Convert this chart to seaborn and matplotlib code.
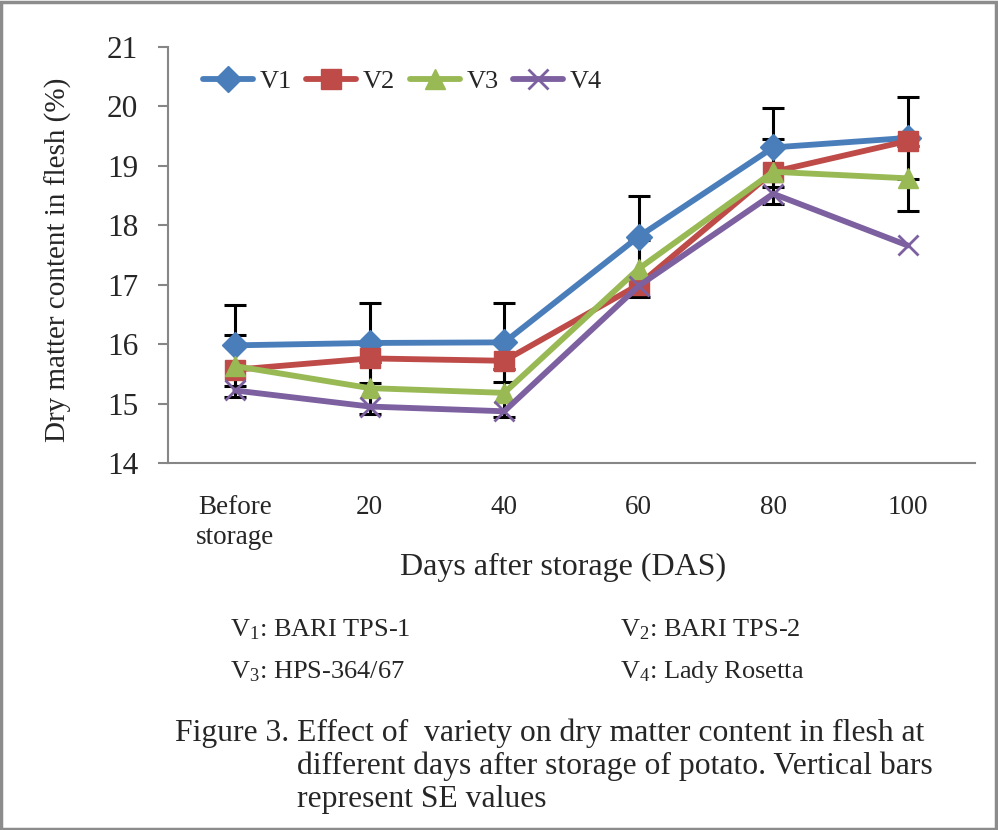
import matplotlib
matplotlib.use("Agg")
import matplotlib.pyplot as plt
import seaborn as sns
import pandas as pd
import numpy as np
from matplotlib.patches import Rectangle

categories = ["Before\nstorage", "20", "40", "60", "80", "100"]
series_names = ["V1", "V2", "V3", "V4"]
v1 = [15.98, 16.02, 16.03, 17.81, 19.31, 19.47]
v2 = [15.57, 15.76, 15.72, 17.00, 18.90, 19.42]
v3 = [15.63, 15.26, 15.18, 17.27, 18.90, 18.79]
v4 = [15.22, 14.95, 14.87, 16.98, 18.53, 17.66]
v1_se = [0.68, 0.67, 0.67, 0.69, 0.66, 0.69]
v3_se = [0.52, 0.44, 0.41, 0.48, 0.55, 0.55]
yticks = [14, 15, 16, 17, 18, 19, 20, 21]

colors = ["#4A7EBB", "#BE4B48", "#98B954", "#7D60A0"]
markers = ["D", "s", "^", "x"]
msizes = [13, 15, 15, 15]

sns.set_theme(style="white")
plt.rcParams["font.family"] = ["Liberation Serif", "DejaVu Serif"]
plt.rcParams["mathtext.fontset"] = "custom"
plt.rcParams["mathtext.rm"] = "Liberation Serif"
plt.rcParams["mathtext.it"] = "Liberation Serif:italic"
plt.rcParams["mathtext.bf"] = "Liberation Serif:bold"

fig = plt.figure(figsize=(9.98, 8.30), dpi=100)
ax = fig.add_axes([168/998, 1-463/830, (975-168)/998, (463-47)/830])

xpos = list(range(len(categories)))
rows = []
for name, vals in zip(series_names, [v1, v2, v3, v4]):
    for x, v in zip(xpos, vals):
        rows.append({"x": x, "value": v, "series": name})
df = pd.DataFrame(rows)

# error bars (behind lines)
ax.errorbar(xpos, v1, yerr=v1_se, fmt="none", ecolor="black", elinewidth=2.2,
            capsize=8, capthick=2.2, zorder=1)
ax.errorbar(xpos, v3, yerr=v3_se, fmt="none", ecolor="black", elinewidth=2.2,
            capsize=8, capthick=2.2, zorder=1)

for name, c, m, ms in zip(series_names, colors, markers, msizes):
    sub = df[df["series"] == name]
    sns.lineplot(data=sub, x="x", y="value", ax=ax, color=c, linewidth=4.2,
                 marker=m, markersize=ms, markeredgecolor=c,
                 markeredgewidth=(2.0 if m == "x" else 1), label=name, zorder=3)

ax.set_xlim(-0.5, len(categories) - 0.5)
ax.set_ylim(14, 21)
ax.set_yticks(yticks)
ax.set_yticklabels([str(t) for t in yticks], fontsize=22.5)
ax.set_xticks(xpos)
ax.set_xticklabels(categories, fontsize=19.5, linespacing=1.25)
ax.set_xticks(np.arange(-0.5, len(categories), 1.0), minor=True)
ax.tick_params(axis="x", which="major", length=0, pad=23)
ax.tick_params(axis="x", which="minor", length=6, width=1.5, color="#868686", direction="out")
ax.tick_params(axis="y", which="major", length=7.5, width=1.5, color="#868686", direction="out",
               left=True, pad=14)
ax.set_xlabel("")
ax.set_ylabel("")
for s in ["top", "right"]:
    ax.spines[s].set_visible(False)
for s in ["left", "bottom"]:
    ax.spines[s].set_color("#868686")
    ax.spines[s].set_linewidth(1.5)

leg = ax.legend(loc="center left", bbox_to_anchor=(0.03, 0.918), ncol=4, frameon=False,
                fontsize=19, handlelength=1.9, handletextpad=0.25, columnspacing=0.55,
                borderaxespad=0)

fig.text(58/998, 1-260/830, "Dry matter content in flesh (%)", rotation=90,
         ha="center", va="center", fontsize=21)
fig.text(563/998, 1-567/830, "Days after storage (DAS)", ha="center", va="center", fontsize=23)

fig.text(230/998, 1-630/830, r"V$_1$: BARI TPS-1", ha="left", va="center", fontsize=19)
fig.text(620/998, 1-630/830, r"V$_2$: BARI TPS-2", ha="left", va="center", fontsize=19)
fig.text(230/998, 1-672/830, r"V$_3$: HPS-364/67", ha="left", va="center", fontsize=19)
fig.text(620/998, 1-672/830, r"V$_4$: Lady Rosetta", ha="left", va="center", fontsize=19)

fig.text(175/998, 1-733/830, "Figure 3. Effect of  variety on dry matter content in flesh at",
         ha="left", va="center", fontsize=22.8)
fig.text(297/998, 1-766/830, "different days after storage of potato. Vertical bars",
         ha="left", va="center", fontsize=22.8)
fig.text(297/998, 1-799/830, "represent SE values", ha="left", va="center", fontsize=22.8)

fig.patches.append(Rectangle((0.001, 0.001), 0.997, 0.997, transform=fig.transFigure,
                             fill=False, edgecolor="#8C8C8C", linewidth=2.5))

fig.savefig("out.png", dpi=100)
